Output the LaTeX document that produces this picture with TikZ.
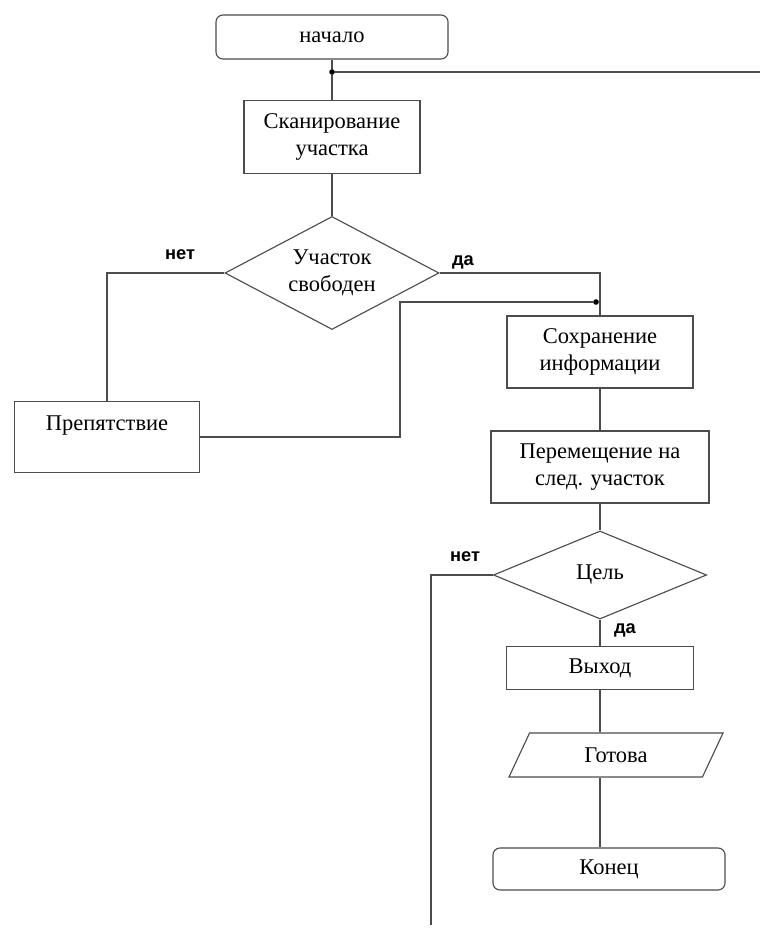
\documentclass[tikz,border=0pt]{standalone}
\usepackage{fontspec}
\setmainfont{Liberation Serif}
\newfontfamily\lblfont{Liberation Sans}
\usetikzlibrary{shapes.geometric}

\begin{document}
\begin{tikzpicture}[x=0.025cm,y=-0.025cm,
  line/.style={draw=black!70,line width=0.8pt},
  blk/.style={line,rectangle,inner sep=2pt,align=center,font=\fontsize{16}{19.5}\selectfont},
  term/.style={blk,rounded corners=5pt},
  cond/.style={line,diamond,inner sep=0pt,align=center,font=\fontsize{16}{19.5}\selectfont},
  io/.style={line,trapezium,trapezium left angle=45,trapezium right angle=135,trapezium stretches body,inner sep=2pt,font=\fontsize{16}{19.5}\selectfont},
  lbl/.style={font=\lblfont\bfseries\fontsize{13}{15}\selectfont},
  dot/.style={circle,fill=black,inner sep=0pt,minimum size=4pt}]

\useasboundingbox (0,0) rectangle (760,931);

\node[term,minimum width=5.8cm,minimum height=1.1cm] (start) at (332,37) {начало};
\node[blk,minimum width=4.4cm,minimum height=1.825cm] (scan) at (332,137) {Сканирование\\участка};
\node[cond,aspect=1.9,minimum width=5.35cm,minimum height=2.825cm] (check) at (332,273) {Участок\\свободен};
\node[blk,minimum width=4.625cm,minimum height=1.775cm] (obst) at (107,437) {Препятствие\\\mbox{}};
\node[blk,minimum width=4.65cm,minimum height=1.8cm] (save) at (600,352) {Сохранение\\информации};
\node[blk,minimum width=5.45cm,minimum height=1.8cm] (move) at (600,467) {Перемещение на\\след. участок};
\node[cond,aspect=2.4,minimum width=5.33cm,minimum height=2.2cm] (goal) at (600,575) {Цель};
\node[blk,minimum width=4.675cm,minimum height=1.075cm] (exit) at (600,668) {Выход};
\node[io,minimum width=5.35cm,minimum height=1.1cm] (ready) at (616,755) {Готова};
\node[term,minimum width=5.8cm,minimum height=1.05cm] (end) at (609,869) {Конец};

\node[dot] (j1) at (332,72) {};
\node[dot] (j2) at (596,302) {};
\coordinate (loopR) at (760,72);
\coordinate (turn) at (400,302);
\coordinate (loopL) at (431,925);

\node[lbl] (no1) at (180,255) {нет};
\node[lbl] (yes1) at (463,262) {да};
\node[lbl] (no2) at (465,557) {нет};
\node[lbl] (yes2) at (625,630) {да};

\draw[line] (start) -- (j1) -- (scan);
\draw[line] (loopR) -- (j1);
\draw[line] (scan) -- (check);
\draw[line] (check.west) -| (obst.north);
\draw[line] (check.east) -| (save.north);
\draw[line] (obst.east) -| (turn) -- (j2);
\draw[line] (save) -- (move);
\draw[line] (move) -- (goal);
\draw[line] (goal.west) -| (loopL);
\draw[line] (goal) -- (exit);
\draw[line] (exit) -- (exit |- ready.north);
\draw[line] (exit |- ready.south) -- (exit |- end.north);

\end{tikzpicture}
\end{document}
